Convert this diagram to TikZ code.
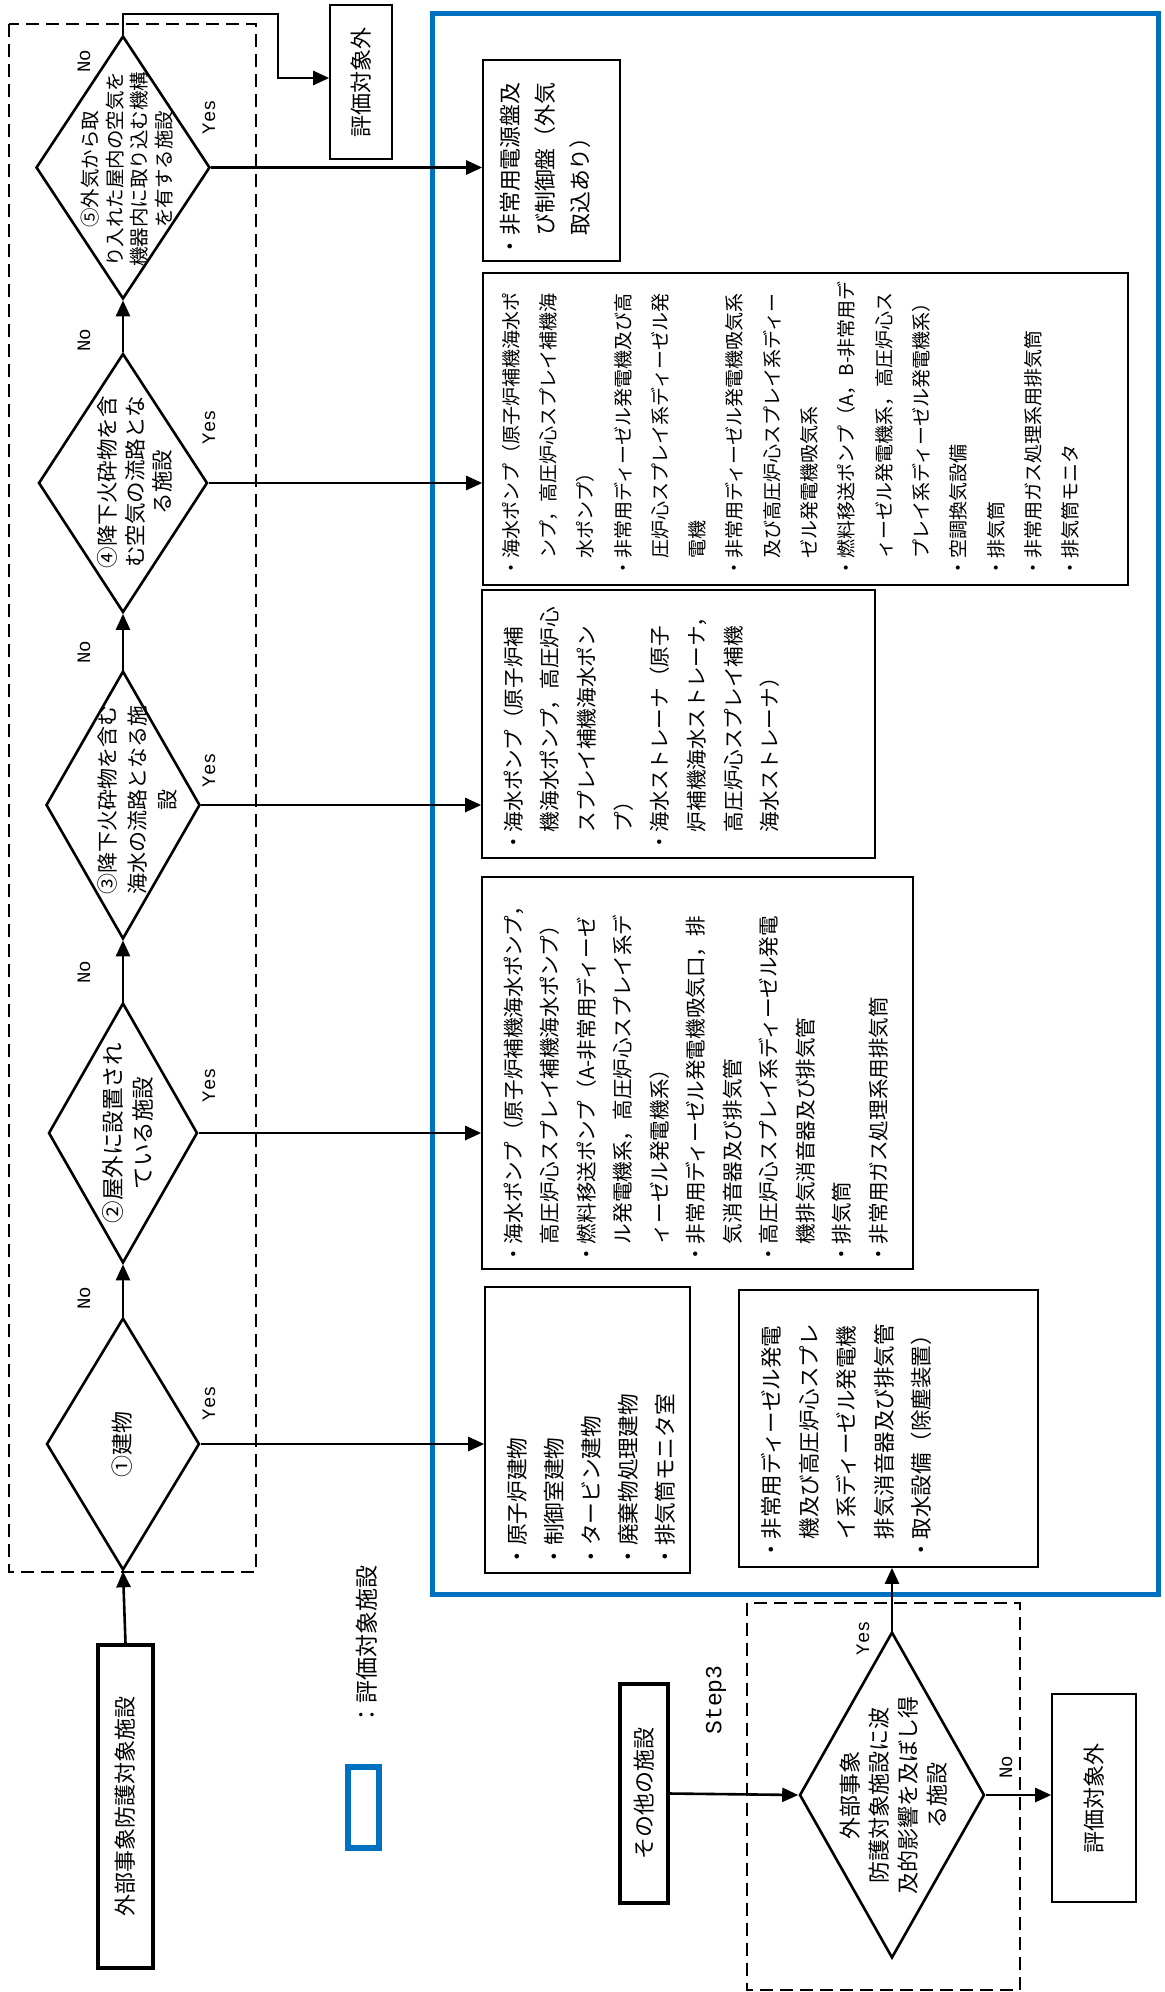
\documentclass[tikz,border=0pt]{standalone}
\usepackage{fontspec}
\newfontfamily\jp{Noto Sans CJK JP}
\newfontfamily\lat{Liberation Mono}
\usetikzlibrary{arrows.meta,shapes.geometric}
\definecolor{evblue}{RGB}{0,112,192}
\newcommand{\ind}{\hspace*{1em}}
\newcommand{\jpf}[2]{\jp\fontsize{#1}{#2}\selectfont}
\begin{document}
\begin{tikzpicture}[x=0.5pt,y=0.5pt,
  conn/.style={line width=1.3pt},
  arr/.style={line width=1.3pt,-{Triangle[length=8pt,width=7pt]}},
  dia/.style={shape=diamond,draw,line width=1.3pt,inner sep=0pt,rotate=90},
  dtext/.style={rotate=90,align=center,inner sep=0pt},
  lbox/.style={draw,line width=0.8pt,rotate=90,inner sep=0pt},
  tbox/.style={draw,line width=1.6pt,rotate=90,inner sep=0pt},
  ltext/.style={rotate=90,align=left,inner sep=0pt,anchor=north west},
  yn/.style={rotate=90,inner sep=0pt,font=\lat\fontsize{9.5pt}{10pt}\selectfont},
  dashbox/.style={line width=1.2pt,dash pattern=on 6.5pt off 3.5pt},
]
\useasboundingbox (0,0) rectangle (1165,-1992);
% frames
\draw[evblue,line width=2.5pt] (432,-13) rectangle (1158,-1594);
\draw[dashbox] (9,-24) rectangle (256,-1572);
\draw[dashbox] (747,-1603) rectangle (1020,-1990);

% start box
\node[tbox,minimum width=161.5pt,minimum height=27.5pt,font={\jpf{11pt}{13pt}}] (S) at (125.5,-1806.5) {外部事象防護対象施設};

% diamonds
\node[dia,minimum width=131.5pt,minimum height=87pt] (d5) at (123,-167.5) {};
\node[dia,minimum width=129.5pt,minimum height=84.5pt] (d4) at (123,-483) {};
\node[dia,minimum width=134pt,minimum height=77pt] (d3) at (123,-805) {};
\node[dia,minimum width=130pt,minimum height=74.5pt] (d2) at (123,-1133) {};
\node[dia,minimum width=126pt,minimum height=76.5pt] (d1) at (123,-1444) {};

\node[dtext,font={\jpf{9.75pt}{12.2pt}}] (t5) at (127,-169) {⑤外気から取\\り入れた屋内の空気を\\機器内に取り込む機構\\を有する施設};
\node[dtext,font={\jpf{10.75pt}{13.75pt}}] (t4) at (135,-482) {④降下火砕物を含\\む空気の流路とな\\る施設};
\node[dtext,font={\jpf{10.5pt}{15pt}}] (t3) at (137,-800) {③降下火砕物を含む\\海水の流路となる施\\設};
\node[dtext,font={\jpf{11.25pt}{15pt}}] (t2) at (128,-1133) {②屋外に設置され\\ている施設};
\node[dtext,font={\jpf{11pt}{13pt}}] (t1) at (122,-1444) {①建物};

% top out-of-scope box
\node[lbox,minimum width=77pt,minimum height=31pt,font={\jpf{11pt}{13pt}}] (ex1) at (361,-82) {評価対象外};

% list boxes
\node[lbox,minimum width=100.5pt,minimum height=68.5pt] (A) at (551.5,-160.5) {};
\node[ltext,font={\jpf{10.95pt}{17.5pt}}] (Atx) at (500,-258) {・非常用電源盤及\\\ind び制御盤（外気\\\ind 取込あり）};

\node[lbox,minimum width=156pt,minimum height=322.5pt] (B4) at (805.5,-429) {};
\node[ltext,font={\jpf{9.5pt}{18.65pt}}] (B4tx) at (501.5,-577.5) {・海水ポンプ（原子炉補機海水ポ\\\ind ンプ，高圧炉心スプレイ補機海\\\ind 水ポンプ）\\・非常用ディーゼル発電機及び高\\\ind 圧炉心スプレイ系ディーゼル発\\\ind 電機\\・非常用ディーゼル発電機吸気系\\\ind 及び高圧炉心スプレイ系ディー\\\ind ゼル発電機吸気系\\・燃料移送ポンプ（A，B-非常用デ\\\ind ィーゼル発電機系，高圧炉心ス\\\ind プレイ系ディーゼル発電機系）\\・空調換気設備\\・排気筒\\・非常用ガス処理系用排気筒\\・排気筒モニタ};

\node[lbox,minimum width=134pt,minimum height=196.5pt] (B3) at (678.5,-724) {};
\node[ltext,font={\jpf{10.3pt}{18.35pt}}] (B3tx) at (503,-853) {・海水ポンプ（原子炉補\\\ind 機海水ポンプ，高圧炉心\\\ind スプレイ補機海水ポン\\\ind プ）\\・海水ストレーナ（原子\\\ind 炉補機海水ストレーナ，\\\ind 高圧炉心スプレイ補機\\\ind 海水ストレーナ）};

\node[lbox,minimum width=196pt,minimum height=215.5pt] (B2) at (697.5,-1073) {};
\node[ltext,font={\jpf{10.3pt}{18.25pt}}] (B2tx) at (503,-1265) {・海水ポンプ（原子炉補機海水ポンプ，\\\ind 高圧炉心スプレイ補機海水ポンプ）\\・燃料移送ポンプ（A-非常用ディーゼ\\\ind ル発電機系，高圧炉心スプレイ系デ\\\ind ィーゼル発電機系）\\・非常用ディーゼル発電機吸気口，排\\\ind 気消音器及び排気管\\・高圧炉心スプレイ系ディーゼル発電\\\ind 機排気消音器及び排気管\\・排気筒\\・非常用ガス処理系用排気筒};

\node[lbox,minimum width=143pt,minimum height=102.5pt] (B1) at (587.5,-1430) {};
\node[ltext,font={\jpf{10.85pt}{18.5pt}}] (B1tx) at (507,-1568) {・原子炉建物\\・制御室建物\\・タービン建物\\・廃棄物処理建物\\・排気筒モニタ室};

\node[lbox,minimum width=138.5pt,minimum height=149.5pt] (E) at (888.5,-1428.5) {};
\node[ltext,font={\jpf{10.75pt}{18.75pt}}] (Etx) at (761,-1561) {・非常用ディーゼル発電\\\ind 機及び高圧炉心スプレ\\\ind イ系ディーゼル発電機\\\ind 排気消音器及び排気管\\・取水設備（除塵装置）};

% lower part
\node[tbox,minimum width=109.5pt,minimum height=24pt,font={\jpf{11pt}{13pt}}] (O) at (644,-1793.5) {その他の施設};
\node[dia,minimum width=163pt,minimum height=92.5pt] (d6) at (892,-1795) {};
\node[dtext,font={\jpf{11pt}{14.5pt}}] (t6) at (894,-1795) {外部事象\\防護対象施設に波\\及的影響を及ぼし得\\る施設};
\node[lbox,minimum width=104pt,minimum height=42pt,font={\jpf{11pt}{13pt}}] (ex2) at (1094,-1798) {評価対象外};
\node[rotate=90,inner sep=0pt,font=\lat\fontsize{11.5pt}{13pt}\selectfont] (st3) at (716,-1700) {Step3};

% legend
\draw[evblue,line width=3pt] (348,-1767) rectangle (379,-1848);
\node[rotate=90,inner sep=0pt,font={\jpf{11.5pt}{13pt}}] (leg) at (367,-1646) {：評価対象施設};

% Yes / No labels
\node[yn] (y5) at (209,-117) {Yes};
\node[yn] (y4) at (209,-427) {Yes};
\node[yn] (y3) at (209,-770) {Yes};
\node[yn] (y2) at (209,-1085) {Yes};
\node[yn] (y1) at (209,-1403) {Yes};
\node[yn] (n5) at (84,-61) {No};
\node[yn] (n4) at (84,-340) {No};
\node[yn] (n3) at (84,-652) {No};
\node[yn] (n2) at (84,-972) {No};
\node[yn] (n1) at (84,-1298) {No};
\node[yn] (y6) at (863,-1638) {Yes};
\node[yn] (n6) at (1006,-1767) {No};

% connectors
\draw[arr] (S.east) -- (d1.west);
\draw[arr] (d1.east) -- (d2.west);
\draw[arr] (d2.east) -- (d3.west);
\draw[arr] (d3.east) -- (d4.west);
\draw[arr] (d4.east) -- (d5.west);
\coordinate (k1) at (278,-14);
\coordinate (k2) at (278,-78);
\draw[arr] (d5.east) |- (k1) -- (k2) -- (k2 -| ex1.north);
\draw[arr] (d5.south) -- (d5.south -| A.north);
\draw[arr] (d4.south) -- (d4.south -| B4.north);
\draw[arr] (d3.south) -- (d3.south -| B3.north);
\draw[arr] (d2.south) -- (d2.south -| B2.north);
\draw[arr] (d1.south) -- (d1.south -| B1.north);
\draw[arr] (O.south) -- (d6.north);
\draw[arr] (d6.east) -- (d6.east |- E.west);
\draw[arr] (d6.south) -- (d6.south -| ex2.north);
\end{tikzpicture}
\end{document}
